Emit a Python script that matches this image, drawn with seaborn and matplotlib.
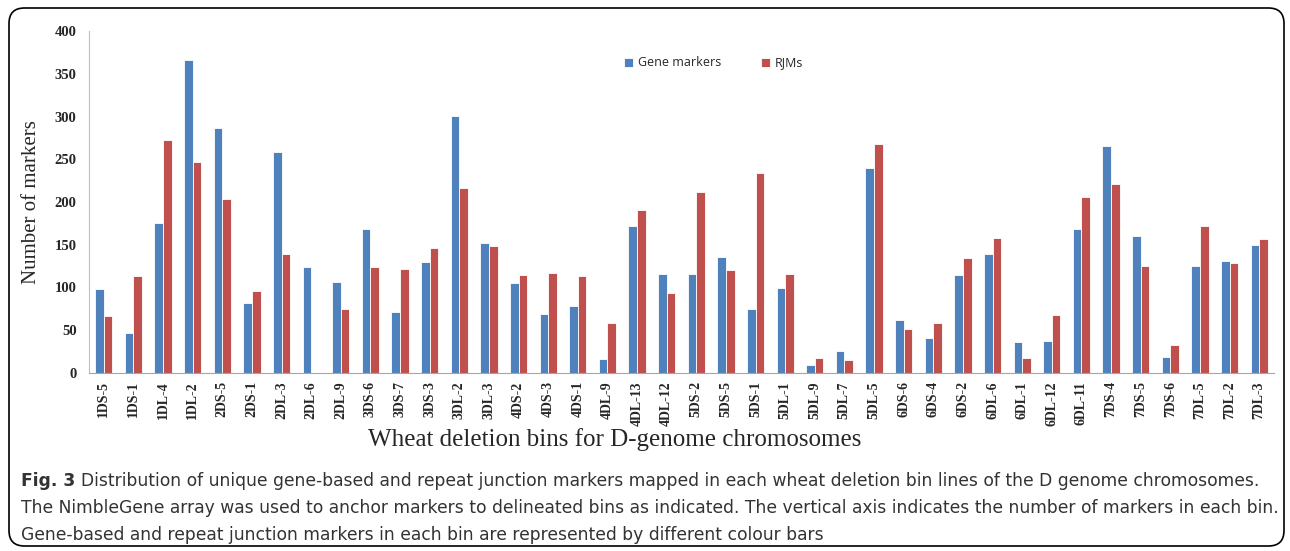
import pandas as pd
import seaborn as sns
import matplotlib.pyplot as plt
from matplotlib.patches import FancyBboxPatch

bins = ['1DS-5', '1DS-1', '1DL-4', '1DL-2', '2DS-5', '2DS-1', '2DL-3', '2DL-6', '2DL-9',
        '3DS-6', '3DS-7', '3DS-3', '3DL-2', '3DL-3', '4DS-2', '4DS-3', '4DS-1', '4DL-9',
        '4DL-13', '4DL-12', '5DS-2', '5DS-5', '5DS-1', '5DL-1', '5DL-9', '5DL-7', '5DL-5',
        '6DS-6', '6DS-4', '6DS-2', '6DL-6', '6DL-1', '6DL-12', '6DL-11', '7DS-4', '7DS-5',
        '7DS-6', '7DL-5', '7DL-2', '7DL-3']
gene_markers = [98, 47, 175, 366, 286, 82, 259, 124, 107, 169, 71, 130, 301, 152, 105, 69,
                78, 16, 172, 116, 116, 136, 75, 99, 9, 26, 240, 62, 41, 115, 139, 36, 37,
                168, 266, 160, 19, 125, 131, 150]
rjms = [67, 113, 273, 247, 203, 96, 139, 0, 75, 124, 122, 146, 216, 149, 115, 117, 113, 59,
        191, 93, 212, 120, 234, 116, 17, 15, 268, 51, 58, 134, 158, 17, 68, 206, 221, 125,
        33, 172, 129, 157]
series = ['Gene markers', 'RJMs']
colors = ['#4F81BD', '#C0504D']
yticks = [0, 50, 100, 150, 200, 250, 300, 350, 400]

caption_bold = 'Fig. 3'
caption_lines = [
    'Distribution of unique gene-based and repeat junction markers mapped in each wheat deletion bin lines of the D genome chromosomes.',
    'The NimbleGene array was used to anchor markers to delineated bins as indicated. The vertical axis indicates the number of markers in each bin.',
    'Gene-based and repeat junction markers in each bin are represented by different colour bars',
]

df = pd.DataFrame({
    'Bin': bins * 2,
    'Series': [series[0]] * len(bins) + [series[1]] * len(bins),
    'Count': gene_markers + rjms,
})

sns.set_style('white')
W, H = 1290, 551
fig = plt.figure(figsize=(W / 100, H / 100), dpi=100)
ax = fig.add_axes([89 / W, 1 - 373 / H, (1274 - 89) / W, (373 - 31) / H])

sns.barplot(data=df, x='Bin', y='Count', hue='Series', palette=colors, width=0.58,
            order=bins, hue_order=series, ax=ax, saturation=1, linewidth=0.6,
            edgecolor='white')

ax.set_xlim(-0.5, len(bins) - 0.5)
ax.set_ylim(0, 400)
ax.set_yticks(yticks)
ax.set_yticklabels([str(v) for v in yticks], fontfamily='Liberation Serif',
                   fontweight='bold', fontsize=10.5)
ax.set_xticks(range(len(bins)))
ax.set_xticklabels(bins, rotation=90, fontfamily='Liberation Serif', fontweight='bold',
                   fontsize=10)
ax.set_xticks([i - 0.5 for i in range(len(bins) + 1)], minor=True)
ax.tick_params(axis='x', which='major', length=0, pad=6)
ax.tick_params(axis='x', which='minor', length=4, color='#A6A6A6', direction='out')
ax.tick_params(axis='y', length=4, color='#A6A6A6', direction='out', pad=5)
for side in ['top', 'right']:
    ax.spines[side].set_visible(False)
ax.spines['left'].set_color('#BFBFBF')
ax.spines['bottom'].set_color('#A6A6A6')

ax.set_ylabel('Number of markers', fontfamily='Liberation Serif', fontsize=15, labelpad=10)
ax.set_xlabel('')
fig.text(615 / W, 1 - 446 / H, 'Wheat deletion bins for D-genome chromosomes',
         fontfamily='Liberation Serif', fontsize=18, ha='center', va='baseline')

handles, labels = ax.get_legend_handles_labels()
ax.legend(handles, labels, loc='center', bbox_to_anchor=(714 / W, 1 - 63 / H),
          bbox_transform=fig.transFigure, ncol=2, frameon=False, handlelength=0.7,
          handleheight=0.7, handletextpad=0.4, columnspacing=3.2,
          prop={'family': 'Open Sans', 'size': 9})

# caption
cap_font = ['Liberation Sans Narrow', 'DejaVu Sans']
t = fig.text(21 / W, 1 - 486 / H, caption_bold, fontsize=12.3, fontweight='bold',
             family=cap_font, color='#333333')
ax.annotate(caption_lines[0], xy=(1, 0), xycoords=t, xytext=(4, 0),
            textcoords='offset points', fontsize=12.3, va='bottom',
            family=cap_font, color='#333333')
for i, line in enumerate(caption_lines[1:]):
    fig.text(21 / W, 1 - (513 + 27 * i) / H, line, fontsize=12.3,
             family=cap_font, color='#333333')

box = FancyBboxPatch((9 / W, 1 - 546 / H), (1284 - 9) / W, (546 - 8) / H,
                     boxstyle='round,pad=0,rounding_size=0.012',
                     transform=fig.transFigure, fill=False, edgecolor='black',
                     linewidth=1.2, mutation_aspect=W / H)
fig.patches.append(box)

fig.savefig('out.png', dpi=100)
